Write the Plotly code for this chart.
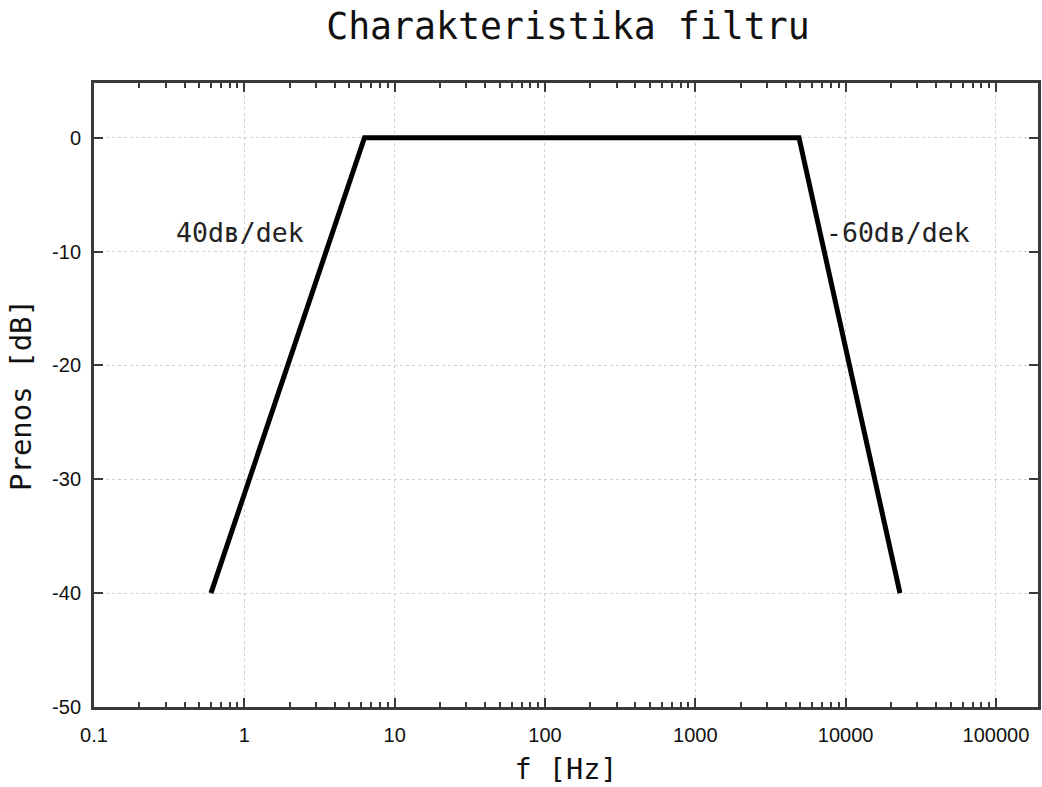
import math
import plotly.graph_objects as go

freq = [0.6, 6.3, 4900, 23000]
gain_db = [-40, 0, 0, -40]
x_tickvals = [0.1, 1, 10, 100, 1000, 10000, 100000]
x_ticktext = ["0.1", "1", "10", "100", "1000", "10000", "100000"]
y_tickvals = [0, -10, -20, -30, -40, -50]
y_ticktext = ["0", "-10", "-20", "-30", "-40", "-50"]
labels = ["40dʙ/dek", "-60dʙ/dek"]
label_x = [0.94, 22400]
label_y = [-8.3, -8.3]

fig = go.Figure()
fig.add_trace(go.Scatter(x=freq, y=gain_db, mode="lines",
                         line=dict(color="black", width=5), showlegend=False))

for t, x, y in zip(labels, label_x, label_y):
    fig.add_annotation(x=math.log10(x), y=y, xref="x", yref="y", text=t, showarrow=False,
                       xanchor="center", yanchor="middle",
                       font=dict(family="DejaVu Sans Mono", size=26.5, color="#222"))

axis_common = dict(showline=True, linecolor="#3a3a3a", linewidth=3, mirror="ticks",
                   ticks="inside", tickcolor="#3a3a3a", tickwidth=2, ticklen=9,
                   showgrid=True, gridcolor="#cfcfcf", griddash="dot", gridwidth=1,
                   zeroline=False,
                   tickfont=dict(family="Liberation Sans", size=20, color="#111"))

fig.update_xaxes(type="log", range=[-1, 5.28], tickvals=x_tickvals, ticktext=x_ticktext,
                 ticklabelstandoff=8,
                 minor=dict(ticks="inside", ticklen=5, tickwidth=2, tickcolor="#3a3a3a",
                            dtick="D1", showgrid=False),
                 title=dict(text="f [Hz]", font=dict(family="DejaVu Sans Mono", size=28.5, color="#111"),
                            standoff=15),
                 **axis_common)
fig.update_yaxes(range=[-50, 4.8], tickvals=y_tickvals, ticktext=y_ticktext,
                 ticklabelstandoff=6,
                 title=dict(text="Prenos [dB]", font=dict(family="DejaVu Sans Mono", size=29, color="#111"),
                            standoff=12),
                 **axis_common)

fig.update_layout(
    width=1042, height=787,
    margin=dict(l=94, r=1, t=83, b=80),
    paper_bgcolor="white", plot_bgcolor="white",
    title=dict(text="Charakteristika filtru", x=0.545, xanchor="center", y=0.967, yanchor="middle",
               font=dict(family="DejaVu Sans Mono", size=36.5, color="#111")),
)

fig.write_html("out.html")
